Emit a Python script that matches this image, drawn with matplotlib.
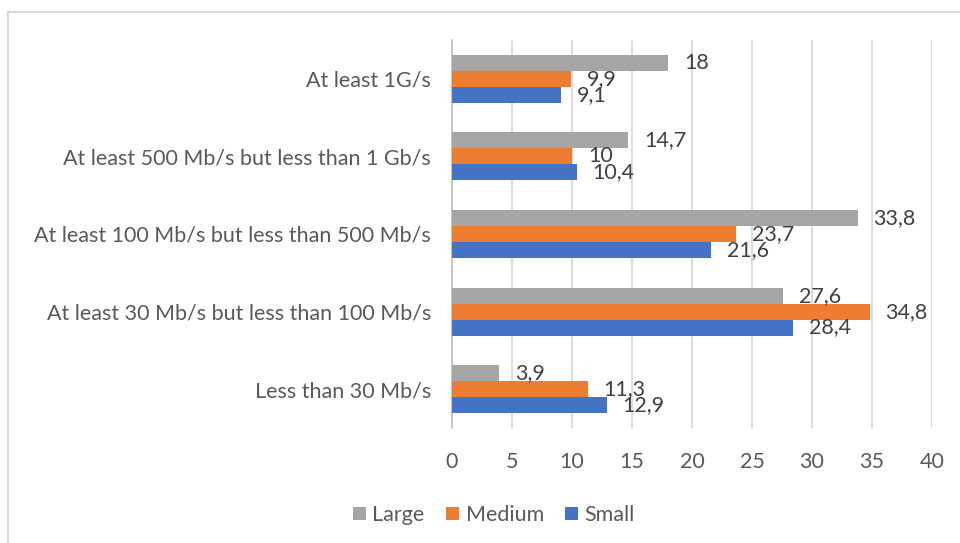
import numpy as np
import matplotlib.pyplot as plt
from matplotlib.lines import Line2D
from matplotlib.patches import Patch

plt.rcParams['font.family'] = ['Lato', 'DejaVu Sans']

categories = [
    "Less than 30 Mb/s",
    "At least 30 Mb/s but less than 100 Mb/s",
    "At least 100 Mb/s but less than 500 Mb/s",
    "At least 500 Mb/s but less than 1 Gb/s",
    "At least 1G/s",
]
large = [3.9, 27.6, 33.8, 14.7, 18.0]
medium = [11.3, 34.8, 23.7, 10.0, 9.9]
small = [12.9, 28.4, 21.6, 10.4, 9.1]
x_ticks = [0, 5, 10, 15, 20, 25, 30, 35, 40]

series = [("Large", large, "#A5A5A5"),
          ("Medium", medium, "#ED7D31"),
          ("Small", small, "#4472C4")]

FS = 15.5


def fmt(v):
    s = f"{v:g}"
    return s.replace(".", ",")


W, H = 960, 543
fig = plt.figure(figsize=(W / 100, H / 100), dpi=100)
ax = fig.add_axes([452 / W, 1 - 428 / H, 480 / W, 388 / H])

y = np.arange(len(categories))
h = 0.206
offsets = [h, 0.0, -h]

for (name, vals, col), off in zip(series, offsets):
    bars = ax.barh(y + off, vals, height=h, color=col, label=name, zorder=3)
    for b, v in zip(bars, vals):
        ax.annotate(fmt(v), (b.get_width(), b.get_y() + b.get_height() / 2),
                    xytext=(11.5, 0), textcoords="offset points",
                    ha="left", va="center", fontsize=FS, color="#404040",
                    zorder=4)

ax.set_xlim(0, 40)
ax.set_ylim(-0.5, len(categories) - 0.5)
ax.set_xticks(x_ticks)
ax.set_xticklabels([str(t) for t in x_ticks])
ax.set_yticks(y)
ax.set_yticklabels(categories)
ax.tick_params(axis="x", length=0, pad=17, labelsize=FS, labelcolor="#595959")
ax.tick_params(axis="y", length=0, pad=15, labelsize=FS, labelcolor="#595959")
ax.grid(axis="x", color="#D9D9D9", linewidth=1.3, zorder=0)
for side in ("top", "right", "bottom"):
    ax.spines[side].set_visible(False)
ax.spines["left"].set_color("#BFBFBF")
ax.spines["left"].set_linewidth(1.2)

handles = [Patch(facecolor=c, edgecolor="none", label=n) for n, _, c in series]
fig.legend(handles=handles, loc="center", bbox_to_anchor=(494 / W, 1 - 515 / H),
           ncol=3, frameon=False, fontsize=FS, labelcolor="#595959",
           handlelength=0.6, handleheight=0.6, handletextpad=0.3,
           columnspacing=1.0)

# chart border (top and left edges)
fig.add_artist(Line2D([8 / W, 1.0], [1 - 12 / H, 1 - 12 / H],
                      transform=fig.transFigure, color="#D9D9D9", linewidth=1.5))
fig.add_artist(Line2D([8 / W, 8 / W], [0.0, 1 - 12 / H],
                      transform=fig.transFigure, color="#D9D9D9", linewidth=1.5))

fig.savefig("out.png", dpi=100)
